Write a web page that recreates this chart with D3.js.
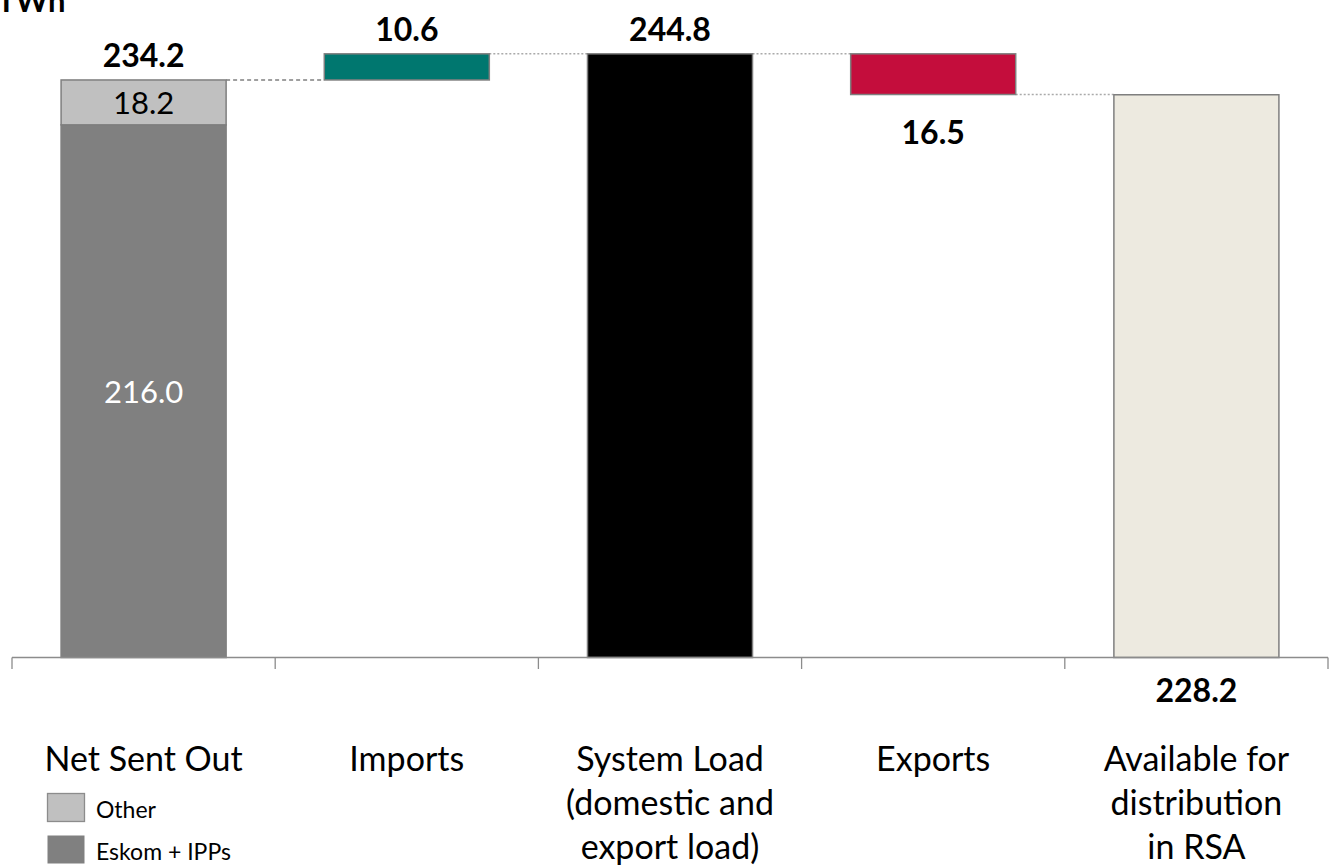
<!DOCTYPE html>
<html><head><meta charset="utf-8">
<script src="https://cdn.jsdelivr.net/npm/d3@7"></script>
<style>body{margin:0;background:#fff}svg{display:block}text{font-family:Lato,"Open Sans",sans-serif}</style>
</head><body><svg id="c" width="1332" height="865"></svg>
<script>
const categories = ["Net Sent Out", "Imports", "System Load\n(domestic and\nexport load)", "Exports", "Available for\ndistribution\nin RSA"];
const netSentOutParts = [216.0, 18.2];      // Eskom + IPPs, Other
const netSentOutTotal = 234.2;
const imports = 10.6;
const systemLoad = 244.8;
const exportsVal = 16.5;
const available = 228.2;
const legendLabels = ["Other", "Eskom + IPPs"];
const unitLabel = "TWh";

const colors = {other:"#C0C0C0", eskom:"#808080", imports:"#00776F", system:"#000000", exports:"#C40D3C", avail:"#EDEAE0"};

const svg = d3.select("#c");
const x = d3.scaleBand().domain(categories).range([12, 1328]).padding(0);
const y = d3.scaleLinear().domain([0, 250]).range([657.5, 41]);
const bw = x.bandwidth() * 0.627;
const cx = c => x(c) + x.bandwidth() / 2;

// bars: [category, bottom, top, color]
const bars = [
  [categories[0], 0, netSentOutParts[0], colors.eskom],
  [categories[0], netSentOutParts[0], netSentOutParts[0] + netSentOutParts[1], colors.other],
  [categories[1], netSentOutTotal, netSentOutTotal + imports, colors.imports],
  [categories[2], 0, systemLoad, colors.system],
  [categories[3], systemLoad - exportsVal, systemLoad, colors.exports],
  [categories[4], 0, available, colors.avail]
];

// connectors
const conn = [
  [categories[0], categories[1], netSentOutTotal, "4,3"],
  [categories[1], categories[2], netSentOutTotal + imports, "2,2"],
  [categories[2], categories[3], systemLoad, "2,2"],
  [categories[3], categories[4], systemLoad - exportsVal, "2,2"]
];
svg.selectAll("line.conn").data(conn).join("line")
  .attr("x1", d => cx(d[0]) + bw/2).attr("x2", d => cx(d[1]) - bw/2)
  .attr("y1", d => y(d[2])).attr("y2", d => y(d[2]))
  .attr("stroke", d => d[3] === "4,3" ? "#808080" : "#AAAAAA").attr("stroke-width", 1.5)
  .attr("stroke-dasharray", d => d[3]);

svg.selectAll("rect.bar").data(bars).join("rect")
  .attr("x", d => cx(d[0]) - bw/2).attr("width", bw)
  .attr("y", d => y(d[2])).attr("height", d => y(d[1]) - y(d[2]))
  .attr("fill", d => d[3]).attr("stroke", "#7F7F7F").attr("stroke-width", 1.5);

// axis
const axisG = svg.append("g");
axisG.append("line").attr("x1", 12).attr("x2", 1328).attr("y1", 657.5).attr("y2", 657.5).attr("stroke", "#8C8C8C").attr("stroke-width", 1.3);
const bounds = categories.map(c => x(c)).concat([x(categories[4]) + x.bandwidth()]);
axisG.selectAll("line.tick").data(bounds).join("line")
  .attr("x1", d => d).attr("x2", d => d).attr("y1", 657.5).attr("y2", 669)
  .attr("stroke", "#8C8C8C").attr("stroke-width", 1.3);

// value labels
const bold = {"font-weight":"bold", "font-size":"32px"};
function lab(txt, xx, yy, opts) {
  const t = svg.append("text").attr("x", xx).attr("y", yy).attr("text-anchor", "middle").attr("dominant-baseline", "central").text(txt);
  Object.entries(opts).forEach(([k, v]) => t.attr(k, v));
  return t;
}
lab(netSentOutTotal.toFixed(1), cx(categories[0]), y(netSentOutTotal) - 25, bold);
lab(imports.toFixed(1), cx(categories[1]), y(netSentOutTotal + imports) - 25, bold);
lab(systemLoad.toFixed(1), cx(categories[2]), y(systemLoad) - 25, bold);
lab(exportsVal.toFixed(1), cx(categories[3]), y(systemLoad - exportsVal) + 37, bold);
lab(available.toFixed(1), cx(categories[4]), 689, bold);
lab(netSentOutParts[1].toFixed(1), cx(categories[0]), (y(netSentOutParts[0]) + y(netSentOutParts[0] + netSentOutParts[1])) / 2, {"font-size":"31px", fill:"#000"});
lab(netSentOutParts[0].toFixed(1), cx(categories[0]), (y(0) + y(netSentOutParts[0])) / 2, {"font-size":"31px", fill:"#fff"});

// category labels
categories.forEach(c => {
  c.split("\n").forEach((ln, i) => {
    lab(ln, cx(c), 757 + i * 44, {"font-size":"34px", fill:"#000"});
  });
});

// legend
const leg = [[legendLabels[0], colors.other, 807.5], [legendLabels[1], colors.eskom, 849.5]];
leg.forEach(([t, col, yy]) => {
  svg.append("rect").attr("x", 47.5).attr("y", yy - 14).attr("width", 37).attr("height", 28)
    .attr("fill", col).attr("stroke", col === colors.other ? "#8C8C8C" : "none").attr("stroke-width", 1.3);
  svg.append("text").attr("x", 96).attr("y", yy + 1).attr("dominant-baseline", "central").attr("font-size", "23px").text(t);
});

// unit label (clipped at top)
svg.append("text").attr("x", -3).attr("y", 12).attr("font-size", "31px").attr("font-weight", "bold").text(unitLabel);
</script></body></html>
